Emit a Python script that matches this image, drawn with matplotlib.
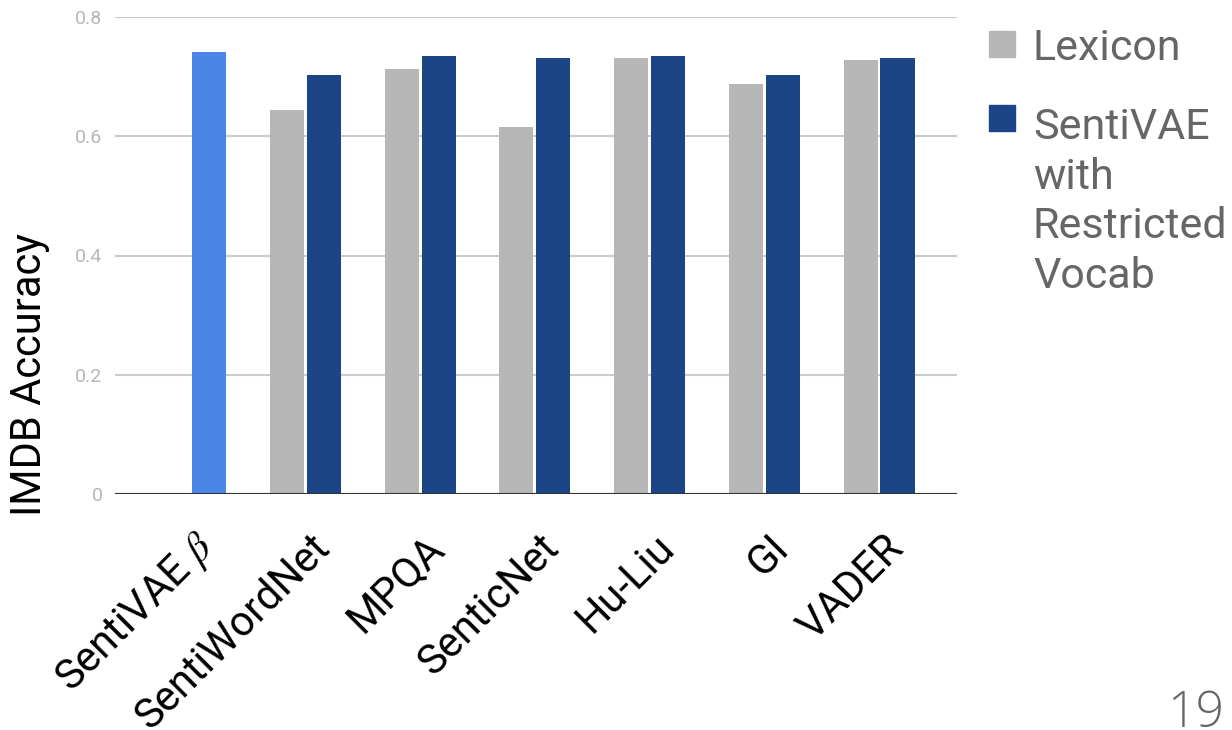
import matplotlib
matplotlib.use('Agg')
import matplotlib.pyplot as plt
import matplotlib.transforms as mtransforms
from matplotlib.patches import Rectangle
import numpy as np

plt.rcParams['font.family'] = ['Roboto', 'DejaVu Sans']
plt.rcParams['mathtext.fontset'] = 'stix'

# data
categories = ['SentiVAE $\\beta$', 'SentiWordNet', 'MPQA', 'SenticNet', 'Hu-Liu', 'GI', 'VADER']
lexicon = [np.nan, 0.644, 0.713, 0.616, 0.731, 0.688, 0.728]
sentivae = [0.741, 0.703, 0.735, 0.731, 0.735, 0.703, 0.731]
yticks = [0, 0.2, 0.4, 0.6, 0.8]
ytick_labels = ['0', '0.2', '0.4', '0.6', '0.8']
legend_labels = ['Lexicon', 'SentiVAE\nwith\nRestricted\nVocab']

c_lex = '#b7b7b7'
c_sv = '#1c4587'
c_first = '#4a86e8'
bar_colors = [c_first] + [c_sv] * (len(categories) - 1)

W, H = 1232, 730
fig = plt.figure(figsize=(W / 100, H / 100), dpi=100)
ax = fig.add_axes([115 / W, 1 - 494 / H, 842 / W, 477 / H])

x = np.arange(len(categories))
w = 0.297
ax.bar(x - 0.161, lexicon, w, color=c_lex, zorder=3)
ax.bar(x + 0.161, sentivae, w, color=bar_colors, zorder=3)

ax.set_xlim(-0.661, 6.68)
ax.set_ylim(0, 0.8)
ax.set_yticks(yticks)
ax.set_yticklabels(ytick_labels, fontsize=14, color='#b7b7b7')
ax.grid(axis='y', color='#cccccc', lw=1.5, zorder=0)
ax.axhline(0, color='#333333', lw=1.5, zorder=4)
for s in ax.spines.values():
    s.set_visible(False)
ax.tick_params(axis='y', length=0, pad=9)

ax.set_xticks(x)
ax.set_xticklabels(categories, rotation=45, ha='right', va='center',
                   rotation_mode='anchor', fontsize=30, color='black')
ax.tick_params(axis='x', length=0, pad=22)
shift = mtransforms.ScaledTranslation(0.18, -0.17, fig.dpi_scale_trans)
for lab in ax.get_xticklabels():
    lab.set_transform(lab.get_transform() + shift)

fig.text(30 / W, 1 - 375 / H, 'IMDB Accuracy', rotation=90, ha='center',
         va='center', fontsize=30, color='black')

# legend
fig.patches.append(Rectangle((989 / W, 1 - 57 / H), 26 / W, 26 / H,
                             transform=fig.transFigure, color=c_lex))
fig.patches.append(Rectangle((989 / W, 1 - 131 / H), 26 / W, 26 / H,
                             transform=fig.transFigure, color=c_sv))
fig.text(1033 / W, 1 - 60 / H, legend_labels[0], fontsize=31, color='#666666',
         va='baseline', ha='left')
fig.text(1033 / W, 1 - 288 / H, legend_labels[1], fontsize=31, color='#666666',
         va='baseline', ha='left', linespacing=1.27)

fig.text(1224 / W, 1 - 727 / H, '19', ha='right', va='baseline', fontsize=36,
         color='#666666', family=['Open Sans', 'DejaVu Sans'], fontweight='light')

fig.savefig('out.png', dpi=100)
